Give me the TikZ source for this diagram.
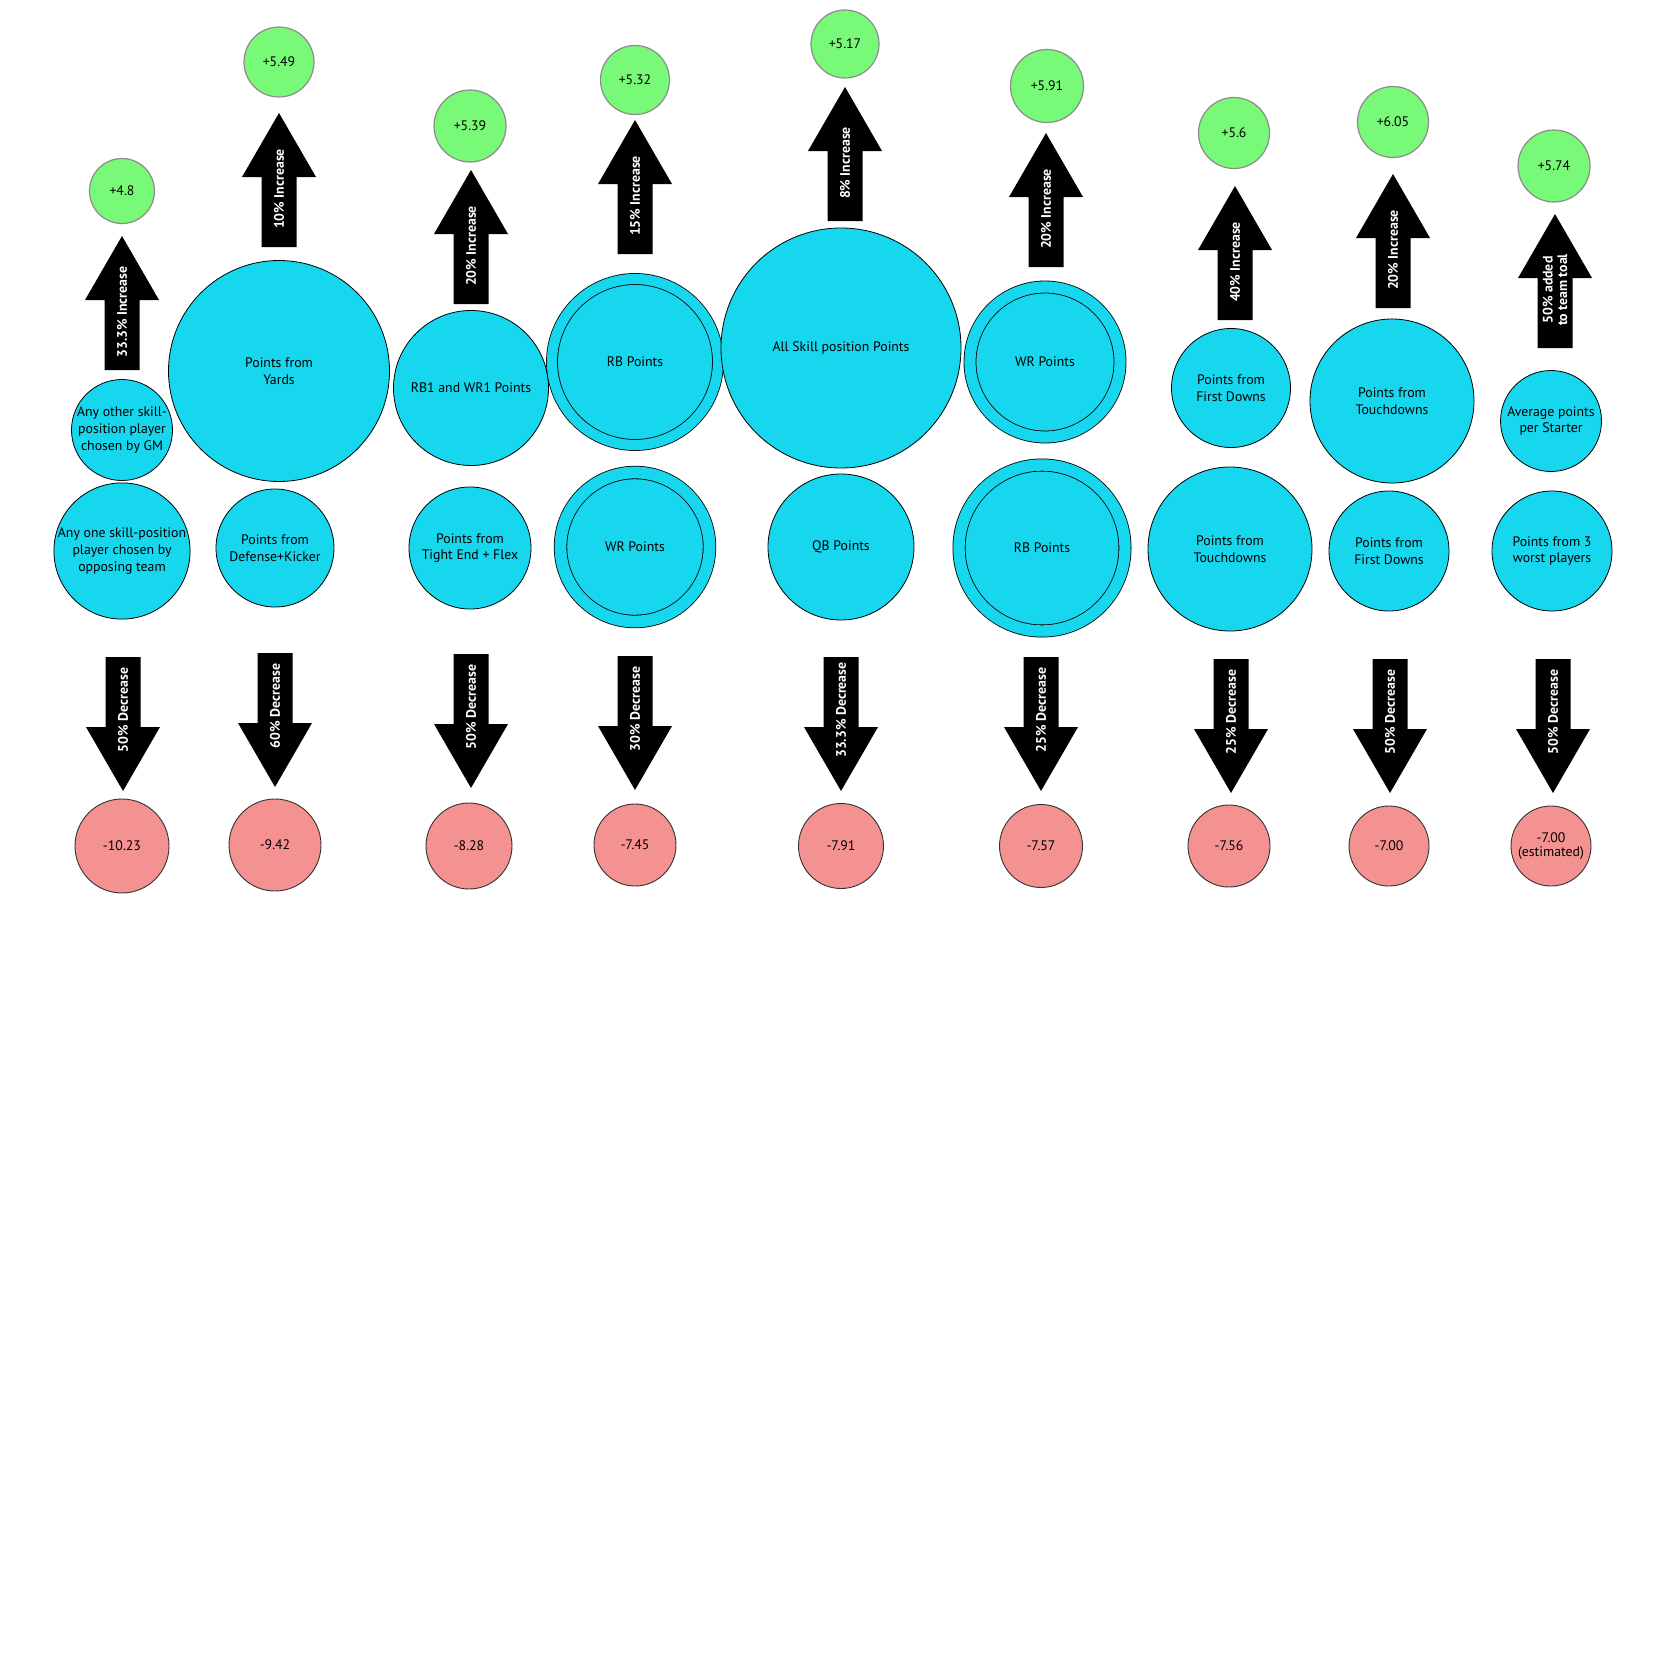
\documentclass[tikz,border=0pt]{standalone}
\usepackage{fontspec}
\setmainfont{PT Sans}
\usetikzlibrary{positioning}
\definecolor{skyblu}{RGB}{23,215,238}
\definecolor{gainclr}{RGB}{120,249,120}
\definecolor{lossclr}{RGB}{244,145,145}

\begin{document}
\begin{tikzpicture}[x=1pt,y=-1pt,font=\fontsize{13.8}{16.8}\selectfont,
  pts/.style={circle,draw=black,line width=0.8pt,fill=skyblu,inner sep=0pt,align=center},
  dbl/.style={pts,double=skyblu,double distance=#1},
  gain/.style={circle,draw=black!45,line width=1.2pt,fill=gainclr,inner sep=0pt},
  loss/.style={circle,draw=black!80,line width=0.9pt,fill=lossclr,inner sep=0pt,align=center,font=\fontsize{13.8}{14}\selectfont},
  atxt/.style={rotate=90,text=white,font=\fontsize{13.8}{14.5}\selectfont\bfseries,align=center,inner sep=0pt},
  pics/uparr/.style={code={
    \fill[black] (-17.5,0) -- (-17.5,-70) -- (-37,-70) -- (0,-134) -- (37,-70) -- (17.5,-70) -- (17.5,0) -- cycle;
    \node[atxt] (-txt) at (0,-58) {#1};}},
  pics/dnarr/.style={code={
    \fill[black] (-17.5,0) -- (-17.5,70) -- (-37,70) -- (0,134) -- (37,70) -- (17.5,70) -- (17.5,0) -- cycle;
    \node[atxt] (-txt) at (0,53) {#1};}}]
\useasboundingbox[fill=white] (0,0) rectangle (1667,1667);

% gains on top
\node[gain,minimum size=65](g1) at (122,191){+4.8};
\node[gain,minimum size=70](g2) at (279,62){+5.49};
\node[gain,minimum size=72](g3) at (470,126){+5.39};
\node[gain,minimum size=69](g4) at (635,80){+5.32};
\node[gain,minimum size=68](g5) at (845,44){+5.17};
\node[gain,minimum size=73](g6) at (1047,86){+5.91};
\node[gain,minimum size=71](g7) at (1234,133){+5.6};
\node[gain,minimum size=71](g8) at (1393,122){+6.05};
\node[gain,minimum size=72](g9) at (1554,166){+5.74};

\pic(u1) at (122,370){uparr={33.3\% Increase}};
\pic(u2) at (279,247){uparr={10\% Increase}};
\pic(u3) at (471,304){uparr={20\% Increase}};
\pic(u4) at (635,254){uparr={15\% Increase}};
\pic(u5) at (845,221){uparr={8\% Increase}};
\pic(u6) at (1046,267){uparr={20\% Increase}};
\pic(u7) at (1235,320){uparr={40\% Increase}};
\pic(u8) at (1393,308){uparr={20\% Increase}};
\pic(u9) at (1555,348){uparr={50\% added\\to team toal}};

% upper row
\node[pts,minimum size=101](t1) at (122,430){Any other skill-\\position player\\chosen by GM};
\node[pts,minimum size=221](t2) at (279,371){Points from\\Yards};
\node[pts,minimum size=155](t3) at (471,388){RB1 and WR1 Points};
\node[dbl=10.2pt,minimum size=166](t4) at (635,362){RB Points};
\node[pts,minimum size=240](t5) at (841,348){All Skill position Points};
\node[dbl=11.2pt,minimum size=150](t6) at (1045,362){WR Points};
\node[pts,minimum size=119](t7) at (1231,388){Points from\\First Downs};
\node[pts,minimum size=164](t8) at (1392,401){Points from\\Touchdowns};
\node[pts,minimum size=101](t9) at (1551,421){Average points\\per Starter};

% lower row
\node[pts,minimum size=133](b1) at (122,551){Any one skill-position\\player chosen by\\opposing team};
\node[pts,minimum size=118](b2) at (275,548){Points from\\Defense+Kicker};
\node[pts,minimum size=122](b3) at (470,548){Points from\\Tight End + Flex};
\node[dbl=11.8pt,minimum size=149](b4) at (635,547){WR Points};
\node[pts,minimum size=146](b5) at (841,547){QB Points};
\node[dbl=11.4pt,minimum size=166](b6) at (1042,548){RB Points};
\node[pts,minimum size=164](b7) at (1230,549){Points from\\Touchdowns};
\node[pts,minimum size=120](b8) at (1389,551){Points from\\First Downs};
\node[pts,minimum size=120](b9) at (1552,551){Points from 3\\worst players};

\pic(d1) at (123,657){dnarr={50\% Decrease}};
\pic(d2) at (275,653){dnarr={60\% Decrease}};
\pic(d3) at (471,654){dnarr={50\% Decrease}};
\pic(d4) at (635,656){dnarr={30\% Decrease}};
\pic(d5) at (841,657){dnarr={33.3\% Decrease}};
\pic(d6) at (1041,657){dnarr={25\% Decrease}};
\pic(d7) at (1231,659){dnarr={25\% Decrease}};
\pic(d8) at (1390,659){dnarr={50\% Decrease}};
\pic(d9) at (1553,659){dnarr={50\% Decrease}};

% losses at the bottom
\node[loss,minimum size=94](r1) at (122,846){-10.23};
\node[loss,minimum size=92](r2) at (275,845){-9.42};
\node[loss,minimum size=86](r3) at (469,846){-8.28};
\node[loss,minimum size=82](r4) at (635,845){-7.45};
\node[loss,minimum size=85](r5) at (841,846){-7.91};
\node[loss,minimum size=83](r6) at (1041,846){-7.57};
\node[loss,minimum size=82](r7) at (1229,846){-7.56};
\node[loss,minimum size=80](r8) at (1389,846){-7.00};
\node[loss,minimum size=80](r9) at (1551,846){-7.00\\(estimated)};
\end{tikzpicture}
\end{document}
